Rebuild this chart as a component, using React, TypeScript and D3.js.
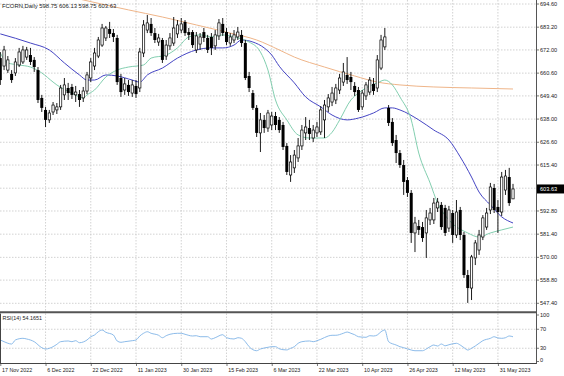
import React from 'react';
import * as d3 from 'd3';

const TITLE = 'FCORN,Daily  598.75 606.13 598.75 603.63';
const RSI_TITLE = 'RSI(14) 54.1651';
const LAST_PRICE = 603.63;

const DATE_LABELS = ['17 Nov 2022', '6 Dec 2022', '22 Dec 2022', '11 Jan 2023', '30 Jan 2023', '15 Feb 2023', '6 Mar 2023', '22 Mar 2023', '10 Apr 2023', '26 Apr 2023', '12 May 2023', '31 May 2023'];
const DATE_INDEX = [0, 12, 24, 36, 48, 60, 72, 84, 96, 108, 120, 132];

const PRICE_TICKS = [694.6, 683.2, 672.0, 660.6, 649.4, 638.0, 626.6, 615.4, 604.0, 592.8, 581.4, 570.0, 558.8, 547.4];
const RSI_TICKS = [100, 70, 30, 0];
const RSI_LEVELS = [70, 30];

const OPEN = [
  668.0, 664.1, 662.1, 660.2, 660.7, 664.6, 666.1, 668.5, 669.5, 667.1,
  662.1, 648.4, 642.5, 637.6, 641.5, 642.5, 644.0, 649.9, 653.3, 653.8,
  649.9, 650.3, 648.4, 651.8, 658.2, 664.1, 669.0, 674.4, 677.9, 682.3,
  680.3, 677.9, 658.2, 652.3, 654.8, 650.8, 654.3, 653.3, 670.5, 681.8,
  684.8, 680.3, 675.9, 676.9, 669.0, 674.0, 675.4, 679.9, 681.8, 685.8,
  680.8, 680.8, 672.0, 674.9, 680.8, 677.9, 678.4, 674.0, 678.9, 684.8,
  680.8, 675.4, 676.9, 678.4, 679.4, 675.4, 659.2, 650.8, 643.5, 631.2,
  637.6, 633.6, 635.1, 639.5, 637.6, 635.1, 624.8, 610.5, 614.0, 618.9,
  624.8, 631.2, 633.6, 628.7, 631.2, 631.7, 637.6, 644.0, 646.4, 647.4,
  652.3, 656.2, 659.7, 658.7, 654.3, 652.3, 644.0, 649.4, 651.3, 655.3,
  653.3, 663.1, 673.5, 643.5, 636.6, 627.7, 621.3, 615.4, 608.0, 601.7,
  582.0, 585.4, 584.9, 582.0, 588.4, 588.4, 594.3, 595.8, 594.3, 584.4,
  591.8, 581.0, 593.3, 581.0, 561.3, 554.9, 569.7, 573.6, 580.0, 584.9,
  593.3, 604.1, 594.8, 592.3, 603.1, 609.5, 598.75,
];
const HIGH = [
  671.0, 674.0, 669.0, 662.1, 668.0, 673.0, 674.0, 673.5, 673.0, 668.5,
  663.6, 649.9, 644.0, 642.5, 646.4, 645.9, 654.8, 658.2, 655.8, 655.3,
  654.3, 652.3, 653.8, 661.2, 668.0, 673.0, 678.4, 684.8, 683.8, 685.8,
  682.3, 679.4, 660.2, 658.2, 657.2, 657.2, 657.2, 673.0, 686.7, 689.2,
  687.7, 682.8, 679.9, 677.9, 676.9, 680.3, 688.2, 686.7, 687.7, 686.7,
  682.8, 681.8, 680.8, 680.3, 682.8, 679.4, 680.3, 681.8, 687.2, 687.7,
  682.8, 680.3, 681.8, 683.3, 681.8, 676.9, 661.2, 652.3, 644.9, 641.0,
  640.0, 642.5, 641.5, 641.5, 639.0, 636.6, 626.2, 620.3, 622.8, 628.7,
  635.1, 639.0, 637.6, 635.1, 636.6, 644.4, 647.4, 650.3, 653.8, 655.3,
  660.2, 665.6, 668.5, 661.2, 656.2, 653.8, 652.3, 656.2, 658.7, 658.2,
  669.5, 679.4, 682.8, 644.9, 638.5, 630.2, 622.8, 617.9, 609.5, 603.1,
  589.9, 588.4, 587.4, 593.3, 594.3, 599.2, 599.2, 597.2, 595.8, 595.3,
  593.3, 598.2, 594.8, 582.5, 563.8, 571.2, 578.5, 583.5, 590.8, 594.3,
  606.6, 606.1, 598.2, 612.0, 613.0, 614.0, 606.13,
];
const LOW = [
  654.8, 662.1, 660.7, 655.8, 659.2, 663.6, 665.1, 667.1, 664.6, 661.2,
  645.9, 641.5, 634.1, 636.1, 640.0, 640.5, 642.5, 647.4, 647.4, 647.9,
  646.4, 644.0, 646.4, 650.3, 656.2, 662.1, 668.0, 673.5, 676.4, 677.9,
  675.9, 654.8, 648.9, 649.9, 649.4, 648.9, 648.4, 651.3, 668.5, 680.3,
  678.9, 675.4, 674.0, 665.6, 667.1, 672.0, 674.0, 677.9, 680.3, 678.9,
  676.9, 673.0, 670.5, 672.0, 675.9, 670.5, 669.5, 672.0, 676.9, 678.9,
  674.4, 674.0, 675.4, 676.9, 673.5, 657.2, 651.3, 642.5, 629.2, 621.8,
  631.2, 631.7, 632.6, 632.6, 631.2, 622.8, 610.5, 607.1, 611.5, 616.9,
  622.8, 627.7, 627.7, 626.7, 629.2, 630.2, 628.7, 641.5, 644.4, 645.4,
  650.3, 654.3, 655.3, 652.3, 649.4, 641.5, 642.5, 647.4, 649.9, 649.9,
  651.3, 662.1, 672.0, 634.6, 624.8, 616.4, 614.0, 600.7, 599.7, 577.1,
  572.6, 581.0, 577.6, 569.7, 585.9, 586.4, 592.3, 583.5, 580.5, 582.5,
  577.1, 579.5, 578.5, 559.9, 547.6, 549.0, 566.2, 571.2, 578.5, 583.5,
  591.3, 591.8, 582.0, 590.3, 600.7, 595.3, 598.75,
];
const CLOSE = [
  657.2, 672.0, 667.1, 657.2, 666.1, 671.0, 672.0, 672.0, 666.1, 663.6,
  647.4, 643.5, 637.6, 641.0, 644.9, 644.0, 653.3, 654.8, 650.8, 649.9,
  651.3, 647.4, 651.8, 659.7, 666.1, 670.5, 676.9, 682.8, 682.8, 679.9,
  678.4, 656.2, 651.3, 655.3, 651.3, 654.8, 650.3, 671.0, 684.3, 685.3,
  680.3, 676.9, 677.9, 667.1, 674.4, 677.9, 682.8, 684.3, 684.8, 680.3,
  679.4, 674.4, 678.9, 678.4, 677.9, 672.0, 673.0, 679.4, 685.3, 680.3,
  675.9, 678.4, 679.4, 680.8, 675.4, 658.2, 653.3, 643.5, 631.2, 637.6,
  633.6, 641.0, 639.5, 635.1, 632.6, 624.3, 612.0, 616.9, 620.3, 624.8,
  632.6, 634.1, 630.7, 632.6, 634.1, 642.5, 644.9, 648.4, 650.8, 653.3,
  658.2, 661.2, 657.2, 656.2, 651.3, 642.5, 650.8, 654.8, 657.2, 651.8,
  667.1, 676.9, 678.4, 636.1, 626.2, 621.3, 615.4, 607.1, 601.7, 582.0,
  586.9, 583.5, 579.5, 589.4, 591.8, 596.7, 597.2, 584.9, 582.0, 593.3,
  581.0, 592.3, 581.0, 561.3, 554.9, 570.2, 577.1, 581.0, 589.4, 591.8,
  604.6, 593.3, 592.3, 609.5, 610.0, 596.7, 603.63,
];

// Moving averages (bar index, value)
const MA_SLOW_IDX = [16, 22, 34, 43, 52, 61, 68, 74, 78, 86, 94, 100, 106, 115, 125, 136];
const MA_SLOW_VAL = [699.2, 696.6, 691.7, 688.2, 684.3, 680.3, 676.9, 672.0, 668.5, 663.6, 659.2, 656.2, 654.8, 653.8, 653.3, 652.8];

const MA_MID_IDX = [0, 8, 13, 17, 21, 23, 25, 28, 31, 35, 37, 39, 43, 47, 52, 56, 59, 62, 64, 67, 70, 72, 74, 78, 81, 85, 88, 92, 95, 99, 102, 104, 106, 111, 115, 119, 122, 125, 127, 130, 133, 136];
const MA_MID_VAL = [679.9, 675.4, 672.0, 665.6, 659.7, 657.2, 657.2, 659.7, 659.2, 657.2, 656.2, 659.7, 663.1, 668.0, 672.0, 673.0, 673.0, 674.4, 676.9, 675.9, 673.0, 669.5, 664.0, 655.8, 648.9, 644.0, 640.0, 637.6, 638.5, 641.0, 643.5, 643.5, 642.5, 637.6, 632.6, 627.7, 619.4, 609.5, 602.1, 595.8, 589.9, 586.9];

const MA_FAST_IDX = [0, 2, 5, 8, 11, 14, 15, 19, 22, 23, 25, 28, 31, 34, 38, 40, 44, 47, 50, 53, 56, 59, 63, 64, 66, 69, 71, 73, 76, 79, 82, 86, 88, 90, 93, 95, 97, 100, 102, 104, 106, 109, 111, 114, 116, 119, 124, 127, 130, 133, 136];
const MA_FAST_VAL = [670.5, 665.6, 664.6, 663.6, 660.7, 656.2, 654.8, 650.8, 648.4, 649.9, 652.3, 658.7, 662.1, 663.6, 664.6, 668.0, 669.5, 673.0, 678.4, 679.4, 678.4, 679.4, 677.9, 677.4, 675.9, 671.0, 662.1, 647.4, 637.6, 630.2, 628.7, 628.7, 631.5, 637.5, 647.4, 650.8, 653.3, 655.8, 657.2, 654.8, 648.9, 637.6, 621.3, 606.6, 596.7, 588.4, 582.0, 580.0, 582.0, 583.5, 584.9];

const RSI_IDX = [0, 1, 3, 4, 6, 7, 9, 11, 12, 14, 15, 16, 18, 19, 20, 21, 23, 24, 25, 26, 27, 28, 30, 31, 32, 33, 35, 36, 37, 38, 39, 40, 42, 43, 44, 45, 47, 48, 49, 51, 52, 53, 55, 56, 57, 59, 60, 62, 63, 64, 65, 66, 68, 69, 71, 72, 73, 74, 75, 76, 77, 78, 79, 80, 82, 83, 84, 85, 87, 88, 89, 91, 92, 93, 94, 95, 97, 98, 99, 100, 101, 102, 103, 105, 106, 107, 109, 110, 112, 113, 114, 115, 116, 117, 118, 119, 121, 122, 123, 124, 125, 127, 128, 130, 131, 132, 133, 134, 135, 136];
const RSI_VAL = [47.4, 43.8, 38.9, 47.4, 50.9, 49.5, 43.8, 31.2, 28.4, 33.3, 38.3, 43.8, 45.3, 43.8, 45.9, 41.7, 47.4, 54.3, 57.9, 64.8, 68.4, 63.6, 57.9, 45.3, 42.5, 43.8, 45.9, 47.4, 55.8, 61.5, 64.8, 61.5, 57.3, 52.2, 56.4, 59.4, 61.5, 61.5, 59.4, 55.8, 56.4, 54.3, 54.3, 49.5, 52.2, 58.5, 52.2, 49.5, 52.2, 50.9, 43.8, 33.3, 24.8, 28.4, 32.0, 33.3, 33.3, 29.0, 27.0, 26.5, 29.9, 33.3, 40.4, 43.8, 45.3, 43.8, 45.9, 48.8, 55.8, 57.3, 57.3, 61.5, 64.2, 61.5, 58.5, 54.3, 53.1, 56.4, 55.8, 57.9, 64.8, 68.4, 43.8, 36.8, 33.3, 31.2, 26.3, 24.8, 24.8, 28.4, 33.3, 36.8, 34.7, 38.9, 35.2, 37.4, 40.4, 36.8, 31.2, 26.3, 29.9, 40.4, 45.9, 50.9, 54.3, 51.6, 50.9, 52.2, 55.8, 54.17];

const FONT = '"Liberation Sans", Arial, sans-serif';
const GRID = '#c6c6c6';

export default function App() {
  const W = 564;
  const H = 376;
  const plotRight = 536;
  const mainBottom = 311;
  const rsiTop = 313.5;
  const rsiBottom = 363;

  const x = d3.scaleLinear().domain([0, 136]).range([0.3, 513]);
  const y = d3.scaleLinear().domain([547.4, 694.6]).range([303.3, 4]);
  const yr = d3.scaleLinear().domain([0, 100]).range([362.5, 315]);

  const maLine = (idx: number[], val: number[]) =>
    d3.line<number>().x((_, k) => x(idx[k])).y((_, k) => y(val[k])).curve(d3.curveMonotoneX)(val) || '';
  const rsiPath = d3.line<number>().x((_, k) => x(RSI_IDX[k])).y((v) => yr(v)).curve(d3.curveMonotoneX)(RSI_VAL) || '';

  const bodyW = 2.3;

  return (
    <svg width={W} height={H} viewBox={`0 0 ${W} ${H}`} style={{ position: 'absolute', left: 0, top: 0, background: '#fff' }}>
      <defs>
        <clipPath id="mainClip"><rect x={0} y={0} width={plotRight} height={mainBottom} /></clipPath>
        <clipPath id="rsiClip"><rect x={0} y={rsiTop} width={plotRight} height={rsiBottom - rsiTop} /></clipPath>
      </defs>
      <rect x={0} y={0} width={W} height={H} fill="#fff" />

      {/* horizontal price grid */}
      {PRICE_TICKS.map((p) => (
        <line key={'hg' + p} x1={0} x2={plotRight} y1={y(p)} y2={y(p)} stroke={GRID} strokeWidth={0.8} strokeDasharray="1.5,1.5" />
      ))}
      {/* vertical grid */}
      {DATE_INDEX.filter((i) => i > 0).map((i) => (
        <g key={'vg' + i}>
          <line x1={x(i)} x2={x(i)} y1={0} y2={mainBottom} stroke={GRID} strokeWidth={0.8} strokeDasharray="1.5,1.5" />
          <line x1={x(i)} x2={x(i)} y1={rsiTop} y2={rsiBottom} stroke={GRID} strokeWidth={0.8} strokeDasharray="1.5,1.5" />
        </g>
      ))}
      {/* RSI levels */}
      {RSI_LEVELS.map((v) => (
        <line key={'rl' + v} x1={0} x2={plotRight} y1={yr(v)} y2={yr(v)} stroke={GRID} strokeWidth={0.8} strokeDasharray="1.5,1.5" />
      ))}

      <g clipPath="url(#mainClip)">
        <path d={maLine(MA_SLOW_IDX, MA_SLOW_VAL)} fill="none" stroke="#efb589" strokeWidth={1} />
        <path d={maLine(MA_MID_IDX, MA_MID_VAL)} fill="none" stroke="#4545c4" strokeWidth={1} />
        <path d={maLine(MA_FAST_IDX, MA_FAST_VAL)} fill="none" stroke="#74c8a6" strokeWidth={0.9} />
        {OPEN.map((o, i) => {
          const c = CLOSE[i];
          const cx = x(i);
          const up = c >= o;
          const top = y(Math.max(o, c));
          const bot = y(Math.min(o, c));
          const h = Math.max(bot - top, 0.8);
          return (
            <g key={'c' + i}>
              <line x1={cx} x2={cx} y1={y(HIGH[i])} y2={y(LOW[i])} stroke="#000" strokeWidth={0.9} />
              {up ? (
                <rect x={cx - bodyW / 2} y={top} width={bodyW} height={h} fill="#fff" stroke="#000" strokeWidth={0.7} />
              ) : (
                <rect x={cx - (bodyW + 0.7) / 2} y={top} width={bodyW + 0.7} height={h} fill="#000" />
              )}
            </g>
          );
        })}
      </g>

      <g clipPath="url(#rsiClip)">
        <path d={rsiPath} fill="none" stroke="#7fb3e6" strokeWidth={0.9} />
      </g>

      {/* frames */}
      <line x1={0} x2={plotRight} y1={312.2} y2={312.2} stroke="#555" strokeWidth={2} />
      <line x1={0} x2={plotRight + 0.5} y1={rsiBottom + 0.5} y2={rsiBottom + 0.5} stroke="#444" strokeWidth={1} />
      <line x1={0.5} x2={0.5} y1={rsiTop} y2={rsiBottom} stroke="#444" strokeWidth={1} />
      <line x1={plotRight + 0.5} x2={plotRight + 0.5} y1={0} y2={rsiBottom + 1} stroke="#555" strokeWidth={1} />

      {/* price axis */}
      {PRICE_TICKS.map((p) => (
        <g key={'pt' + p}>
          <line x1={plotRight + 1} x2={plotRight + 3} y1={y(p)} y2={y(p)} stroke="#555" strokeWidth={0.8} />
          <text x={540} y={y(p)} dy="0.35em" fontSize={5.6} fontFamily={FONT} fill="#222">{p.toFixed(2)}</text>
        </g>
      ))}
      <rect x={537} y={y(LAST_PRICE) - 4.5} width={27} height={9} fill="#000" />
      <text x={540} y={y(LAST_PRICE)} dy="0.35em" fontSize={5.6} fontFamily={FONT} fill="#fff">{LAST_PRICE.toFixed(2)}</text>

      {/* RSI axis */}
      {RSI_TICKS.map((v) => (
        <g key={'rt' + v}>
          <line x1={plotRight + 1} x2={plotRight + 3} y1={Math.min(yr(v), 361.5)} y2={Math.min(yr(v), 361.5)} stroke="#555" strokeWidth={0.8} />
          <text x={540} y={Math.min(yr(v), 360.5)} dy="0.35em" fontSize={5.6} fontFamily={FONT} fill="#222">{v}</text>
        </g>
      ))}

      {/* date axis */}
      {DATE_INDEX.map((i, k) => (
        <g key={'dt' + i}>
          <line x1={x(i) + 0.5} x2={x(i) + 0.5} y1={rsiBottom + 1} y2={rsiBottom + 3} stroke="#555" strokeWidth={0.8} />
          <text x={x(i) + 1.8} y={372} fontSize={5.3} fontFamily={FONT} fill="#222">{DATE_LABELS[k]}</text>
        </g>
      ))}

      <text x={2} y={7.6} fontSize={5.9} fontFamily={FONT} fill="#222">{TITLE}</text>
      <text x={2.5} y={319.8} fontSize={5.4} fontFamily={FONT} fill="#222">{RSI_TITLE}</text>
    </svg>
  );
}
